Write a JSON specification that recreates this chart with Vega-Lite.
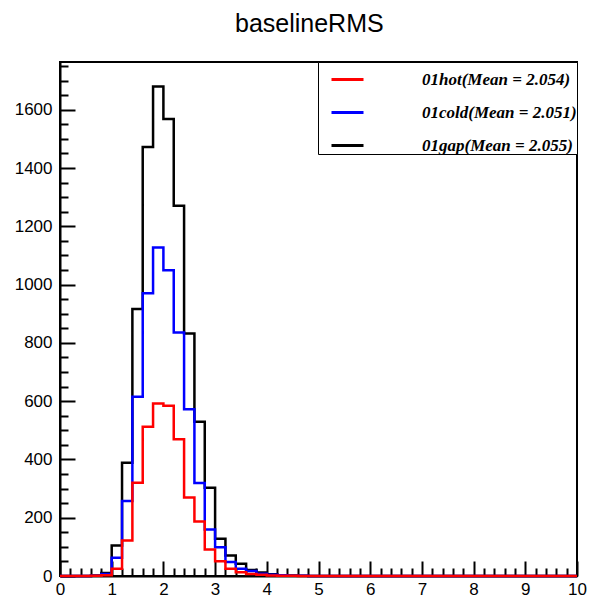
{
  "$schema": "https://vega.github.io/schema/vega-lite/v6.json",
  "width": 517,
  "height": 514,
  "autosize": "none",
  "padding": {"left": 60, "top": 62, "right": 12, "bottom": 29},
  "background": "white",
  "title": {"text": "baselineRMS", "font": "Liberation Sans", "fontSize": 25, "fontWeight": "normal", "color": "black", "anchor": "middle", "frame": "bounds", "offset": 20, "dx": 9},
  "config": {
    "view": {"stroke": "black", "strokeWidth": 2},
    "axis": {"grid": false, "domainColor": "black", "domainWidth": 2, "tickColor": "black", "tickWidth": 2, "labelFont": "Liberation Sans", "labelFontSize": 17, "labelColor": "black", "labelFlush": false, "labelOverlap": false, "title": null}
  },
  "data": {"values": [
    {"x": 0.0, "hot": 0, "cold": 0, "gap": 0},
    {"x": 0.2, "hot": 0, "cold": 0, "gap": 0},
    {"x": 0.4, "hot": 0, "cold": 0, "gap": 0},
    {"x": 0.6, "hot": 1, "cold": 1, "gap": 2},
    {"x": 0.8, "hot": 3, "cold": 7, "gap": 10},
    {"x": 1.0, "hot": 25, "cold": 63, "gap": 105},
    {"x": 1.2, "hot": 122, "cold": 257, "gap": 389},
    {"x": 1.4, "hot": 320, "cold": 615, "gap": 916},
    {"x": 1.6, "hot": 512, "cold": 970, "gap": 1472},
    {"x": 1.8, "hot": 592, "cold": 1127, "gap": 1680},
    {"x": 2.0, "hot": 584, "cold": 1049, "gap": 1568},
    {"x": 2.2, "hot": 469, "cold": 836, "gap": 1271},
    {"x": 2.4, "hot": 269, "cold": 572, "gap": 832},
    {"x": 2.6, "hot": 187, "cold": 319, "gap": 529},
    {"x": 2.8, "hot": 91, "cold": 160, "gap": 303},
    {"x": 3.0, "hot": 51, "cold": 99, "gap": 128},
    {"x": 3.2, "hot": 25, "cold": 48, "gap": 70},
    {"x": 3.4, "hot": 13, "cold": 25, "gap": 42},
    {"x": 3.6, "hot": 7, "cold": 17, "gap": 21},
    {"x": 3.8, "hot": 4, "cold": 8, "gap": 12},
    {"x": 4.0, "hot": 2, "cold": 4, "gap": 6},
    {"x": 4.2, "hot": 1, "cold": 3, "gap": 3},
    {"x": 4.4, "hot": 1, "cold": 1, "gap": 2},
    {"x": 4.6, "hot": 0, "cold": 1, "gap": 1},
    {"x": 4.8, "hot": 0, "cold": 0, "gap": 0},
    {"x": 5.0, "hot": 0, "cold": 0, "gap": 0},
    {"x": 6.0, "hot": 0, "cold": 0, "gap": 0},
    {"x": 7.0, "hot": 0, "cold": 0, "gap": 0},
    {"x": 8.0, "hot": 0, "cold": 0, "gap": 0},
    {"x": 9.0, "hot": 0, "cold": 0, "gap": 0},
    {"x": 10.0, "hot": 0, "cold": 0, "gap": 0}
  ]},
  "transform": [{"fold": ["gap", "cold", "hot"], "as": ["series", "count"]}],
  "encoding": {
    "x": {"field": "x", "type": "quantitative", "scale": {"domain": [0, 10], "nice": false, "zero": false},
      "axis": {
        "values": [0,0.2,0.4,0.6,0.8,1,1.2,1.4,1.6,1.8,2,2.2,2.4,2.6,2.8,3,3.2,3.4,3.6,3.8,4,4.2,4.4,4.6,4.8,5,5.2,5.4,5.6,5.8,6,6.2,6.4,6.6,6.8,7,7.2,7.4,7.6,7.8,8,8.2,8.4,8.6,8.8,9,9.2,9.4,9.6,9.8,10],
        "tickSize": {"condition": {"test": "abs(datum.value - round(datum.value)) < 0.001", "value": -15}, "value": -8},
        "labelExpr": "abs(datum.value - round(datum.value)) < 0.001 ? format(datum.value, 'd') : ''",
        "labelPadding": 20
      }},
    "y": {"field": "count", "type": "quantitative", "scale": {"domain": [0, 1764], "nice": false},
      "axis": {
        "values": [0,50,100,150,200,250,300,350,400,450,500,550,600,650,700,750,800,850,900,950,1000,1050,1100,1150,1200,1250,1300,1350,1400,1450,1500,1550,1600,1650,1700,1750],
        "tickSize": {"condition": {"test": "datum.value % 200 == 0", "value": -15}, "value": -8},
        "labelExpr": "datum.value % 200 == 0 ? format(datum.value, 'd') : ''",
        "labelPadding": 23
      }},
    "color": {"field": "series", "type": "nominal",
      "scale": {"domain": ["hot", "cold", "gap"], "range": ["#ff0000", "#0000ff", "#000000"]},
      "legend": {
        "title": null, "orient": "top-right", "offset": 0,
        "symbolType": "stroke", "symbolSize": 1024, "symbolStrokeWidth": 3, "symbolOffset": 12,
        "labelFont": "Liberation Serif", "labelFontStyle": "italic", "labelFontWeight": "bold", "labelFontSize": 17, "labelColor": "black", "labelOffset": 57, "labelLimit": 600,
        "labelExpr": "datum.label == 'hot' ? '01hot(Mean = 2.054)' : datum.label == 'cold' ? '01cold(Mean = 2.051)' : '01gap(Mean = 2.055)'",
        "strokeColor": "black", "fillColor": "white", "padding": 0, "rowPadding": 7
      }}
  },
  "layer": [
    {"transform": [{"filter": "datum.series == 'gap'"}], "mark": {"type": "line", "interpolate": "step-after", "strokeWidth": 2.5}},
    {"transform": [{"filter": "datum.series == 'cold'"}], "mark": {"type": "line", "interpolate": "step-after", "strokeWidth": 2.5}},
    {"transform": [{"filter": "datum.series == 'hot'"}], "mark": {"type": "line", "interpolate": "step-after", "strokeWidth": 2.5}}
  ]
}
